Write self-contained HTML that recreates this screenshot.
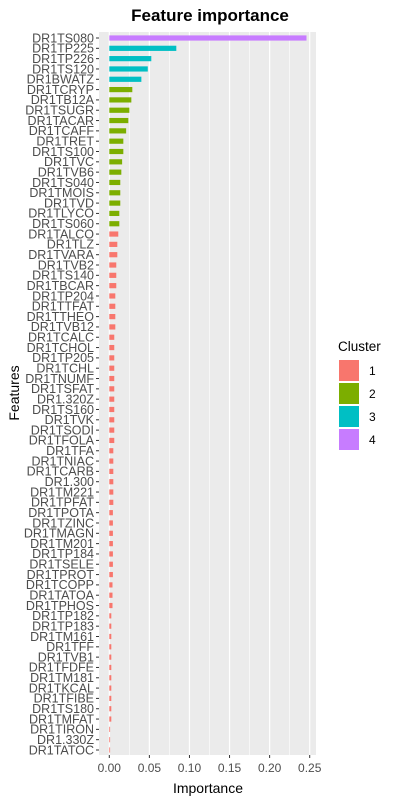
<!DOCTYPE html>
<html><head><meta charset="utf-8"><style>
body{margin:0;background:#fff;width:400px;height:800px;overflow:hidden}
svg{font-family:"Liberation Sans",Arial,sans-serif}
</style></head><body>
<svg id="chart" width="400" height="800">
<rect x="0" y="0" width="400" height="800" fill="#fff"/>
<text x="210" y="21" text-anchor="middle" font-size="17" font-weight="bold" fill="#000">Feature importance</text>
<rect x="99" y="32" width="217" height="723" fill="#ebebeb"/>
<g id="grid"></g><g id="bars"></g><g id="ylabels"></g><g id="xaxis"></g>
<text transform="translate(19,393) rotate(-90)" text-anchor="middle" font-size="14" fill="#000">Features</text>
<text x="208" y="793" text-anchor="middle" font-size="14" fill="#000">Importance</text>
<g>
<text x="338" y="351" font-size="13.5" fill="#000">Cluster</text>
<rect x="339" y="360" width="20" height="21" fill="#F8766D"/>
<text x="369" y="375" font-size="12" fill="#000">1</text>
<rect x="339" y="383" width="20" height="21" fill="#7CAE00"/>
<text x="369" y="398" font-size="12" fill="#000">2</text>
<rect x="339" y="406" width="20" height="21" fill="#00BFC4"/>
<text x="369" y="421" font-size="12" fill="#000">3</text>
<rect x="339" y="429" width="20" height="21" fill="#C77CFF"/>
<text x="369" y="444" font-size="12" fill="#000">4</text>
</g>
</svg>
<script>
const features = ["DR1TS080","DR1TP225","DR1TP226","DR1TS120","DR1BWATZ","DR1TCRYP","DR1TB12A","DR1TSUGR","DR1TACAR","DR1TCAFF","DR1TRET","DR1TS100","DR1TVC","DR1TVB6","DR1TS040","DR1TMOIS","DR1TVD","DR1TLYCO","DR1TS060","DR1TALCO","DR1TLZ","DR1TVARA","DR1TVB2","DR1TS140","DR1TBCAR","DR1TP204","DR1TTFAT","DR1TTHEO","DR1TVB12","DR1TCALC","DR1TCHOL","DR1TP205","DR1TCHL","DR1TNUMF","DR1TSFAT","DR1.320Z","DR1TS160","DR1TVK","DR1TSODI","DR1TFOLA","DR1TFA","DR1TNIAC","DR1TCARB","DR1.300","DR1TM221","DR1TPFAT","DR1TPOTA","DR1TZINC","DR1TMAGN","DR1TM201","DR1TP184","DR1TSELE","DR1TPROT","DR1TCOPP","DR1TATOA","DR1TPHOS","DR1TP182","DR1TP183","DR1TM161","DR1TFF","DR1TVB1","DR1TFDFE","DR1TM181","DR1TKCAL","DR1TFIBE","DR1TS180","DR1TMFAT","DR1TIRON","DR1.330Z","DR1TATOC"];
const importance = [0.246,0.0836,0.0524,0.048,0.040,0.0287,0.0275,0.025,0.0237,0.021,0.0175,0.0175,0.016,0.015,0.0137,0.0137,0.0137,0.0125,0.0125,
0.0112,0.010,0.010,0.0087,0.0087,0.0087,0.0075,0.0075,0.0075,0.0075,0.0062,0.0062,0.0062,0.0062,0.0062,0.0062,0.0062,0.0062,0.0062,0.0062,0.0062,
0.005,0.005,0.005,0.005,0.005,0.005,0.0045,0.0045,0.0045,0.0045,0.0045,0.0045,0.0045,0.004,0.004,0.004,
0.0025,0.0025,0.0025,0.0025,0.0025,0.0025,0.0025,0.0025,0.0025,0.0025,0.0025,0.001,0.001,0.001];
const clusters = [4,3,3,3,3,2,2,2,2,2,2,2,2,2,2,2,2,2,2].concat(new Array(51).fill(1));
const xTicks = [0,0.05,0.10,0.15,0.20,0.25];
const xTickLabels = ["0.00","0.05","0.10","0.15","0.20","0.25"];
const colors = {1:"#F8766D",2:"#7CAE00",3:"#00BFC4",4:"#C77CFF"};
const NS="http://www.w3.org/2000/svg";
const x = v => 109.3 + v*801.6;
const y0 = 38, y1 = 750;
const y = i => y0 + i*(y1-y0)/(features.length-1);
const grid=document.getElementById('grid'),bars=document.getElementById('bars'),yl=document.getElementById('ylabels'),xa=document.getElementById('xaxis');
function mk(t,a,p){const e=document.createElementNS(NS,t);for(const k in a)e.setAttribute(k,a[k]);p.appendChild(e);return e;}
for(let i=0;i<xTicks.length;i++){
  if(i<xTicks.length-1){const m=mk('line',{x1:x(xTicks[i]+0.025),x2:x(xTicks[i]+0.025),y1:32,y2:755,stroke:'#fff','stroke-width':0.6},grid);
  
  }
  const g=mk('line',{x1:x(xTicks[i]),x2:x(xTicks[i]),y1:32,y2:755,stroke:'#fff','stroke-width':1.2},grid);
  
  
  mk('line',{x1:x(xTicks[i]),x2:x(xTicks[i]),y1:755,y2:758,stroke:'#333'},xa);
  const t=mk('text',{x:x(xTicks[i]),y:772,'text-anchor':'middle','font-size':12,fill:'#4d4d4d'},xa);
  t.textContent=xTickLabels[i];
  
  
}
const bh=5.2;
features.forEach((f,i)=>{
  const r=mk('rect',{x:x(0),y:y(i)-bh/2,width:Math.max(0.8,x(importance[i])-x(0)),height:bh,fill:colors[clusters[i]]},bars);
  
  
  mk('line',{x1:96,x2:99,y1:y(i),y2:y(i),stroke:'#333'},yl);
  const t=mk('text',{x:94,y:y(i)+4.3,'text-anchor':'end','font-size':12.5,fill:'#4d4d4d'},yl);
  t.textContent=f;
  
  
});
</script>
</body></html>
